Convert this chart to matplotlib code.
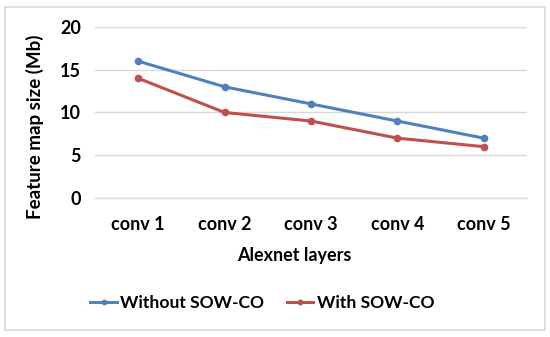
import matplotlib
matplotlib.use("Agg")
import matplotlib.pyplot as plt
from matplotlib.patches import Rectangle

# --- data ---
layers = ["conv 1", "conv 2", "conv 3", "conv 4", "conv 5"]
without_sow = [16, 13, 11, 9, 7]
with_sow = [14, 10, 9, 7, 6]
y_ticks = [0, 5, 10, 15, 20]

plt.rcParams["font.family"] = ["Lato", "DejaVu Sans"]
plt.rcParams["font.weight"] = "bold"
FS = 13

fig = plt.figure(figsize=(5.5, 3.37), dpi=100)
ax = fig.add_axes([0.1727, 0.4125, 0.7853, 0.5075])

x = list(range(len(layers)))
ax.plot(x, without_sow, color="#4F81BD", lw=2.2, marker="o", ms=4.5,
        label="Without SOW-CO")
ax.plot(x, with_sow, color="#C0504D", lw=2.2, marker="o", ms=4.5,
        label="With SOW-CO")

ax.set_xlim(-0.5, len(layers) - 0.5)
ax.set_ylim(0, 20)
ax.set_yticks(y_ticks)
ax.set_xticks(x)
ax.set_xticklabels(layers)
ax.tick_params(length=0, labelsize=FS, colors="black")
ax.tick_params(axis="x", pad=13)
ax.tick_params(axis="y", pad=10)
for lab in ax.get_xticklabels() + ax.get_yticklabels():
    lab.set_fontweight("bold")

ax.grid(axis="y", color="#D9D9D9", lw=1)
ax.set_axisbelow(True)
for side in ["top", "right", "left"]:
    ax.spines[side].set_visible(False)
ax.spines["bottom"].set_color("#D9D9D9")
ax.spines["bottom"].set_linewidth(1)

fig.text(0.064, 0.625, "Feature map size (Mb)", rotation=90, ha="center",
         va="center", fontsize=13.5, fontweight="bold")
fig.text(0.535, 0.243, "Alexnet layers", ha="center", va="center",
         fontsize=FS, fontweight="bold")

handles, labels = ax.get_legend_handles_labels()
fig.legend(handles, labels, loc="center", bbox_to_anchor=(0.477, 0.1),
           ncol=2, frameon=False, handlelength=1.5,
           handletextpad=0.2, columnspacing=1.3, markerscale=0.7,
           prop={"weight": "bold", "size": 12.6})

# outer chart border
fig.patches.append(Rectangle((0.009, 0.02), 0.982, 0.958, transform=fig.transFigure,
                             fill=False, edgecolor="#D9D9D9", lw=1.2))

fig.savefig("out.png", dpi=100)
plt.close(fig)
